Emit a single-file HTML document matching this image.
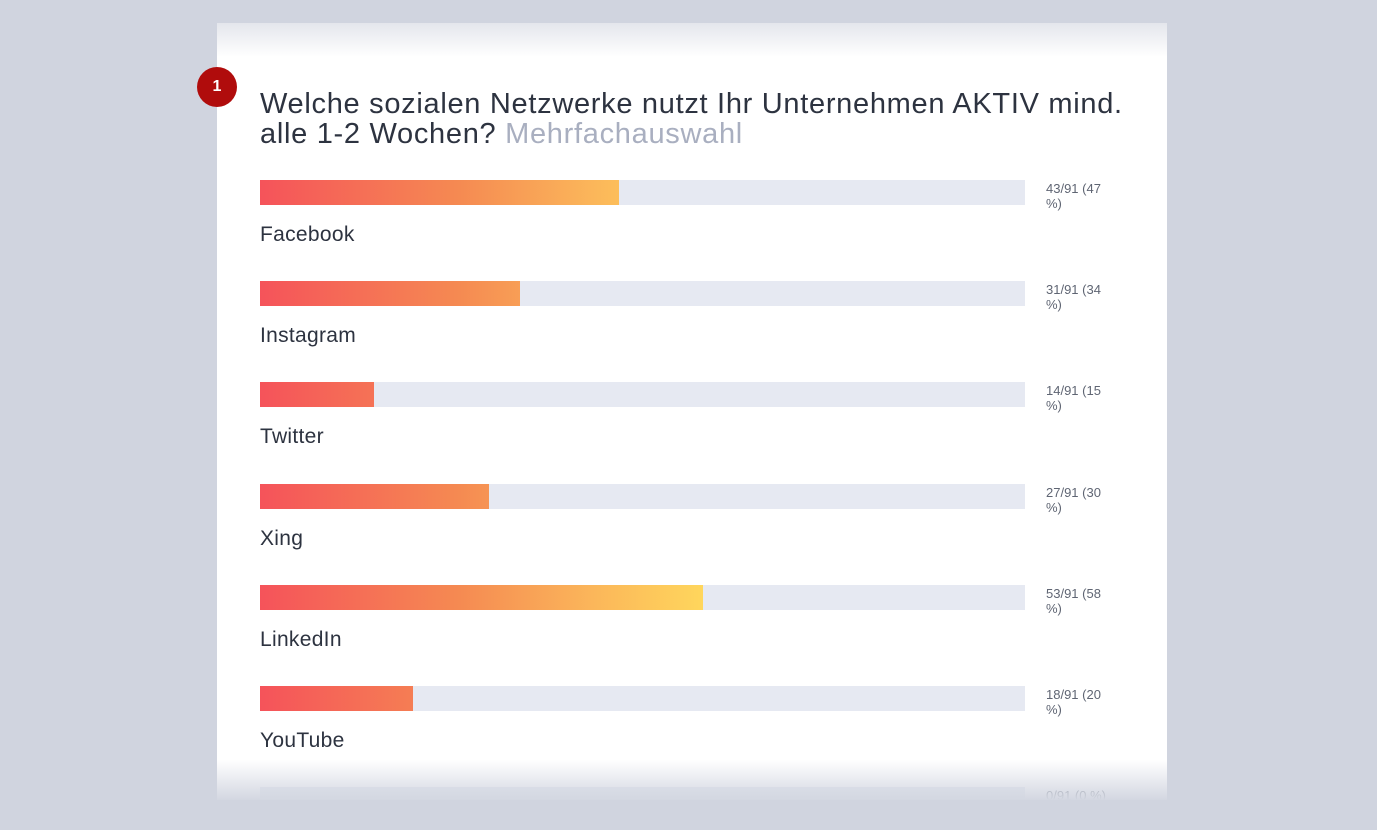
<!DOCTYPE html>
<html><head><meta charset="utf-8"><style>
html,body{margin:0;padding:0;}
body{width:1377px;height:830px;background:#d0d4df;position:relative;overflow:hidden;font-family:"Liberation Sans",sans-serif;}
.card{position:absolute;left:217px;top:23px;width:950px;height:777px;background:#fff;overflow:hidden;}
.topfade{position:absolute;left:0;top:0;width:950px;height:34px;background:linear-gradient(#e4e6ec,#fff);z-index:3}
.botfade{position:absolute;left:0;top:737px;width:950px;height:40px;background:linear-gradient(rgba(255,255,255,0),#d3d7e1);z-index:3}
.badge{position:absolute;left:197px;top:67px;width:40px;height:40px;border-radius:50%;background:#b00c0c;color:#fff;font-weight:bold;font-size:16px;text-align:center;line-height:40px;z-index:5}
.title{position:absolute;left:43px;top:66px;width:880px;font-size:29px;line-height:30px;color:#2d3340;letter-spacing:0.7px;font-weight:300}
.title span{color:#a9afc0}
.row{position:absolute;left:43px;width:900px;}
.track{position:absolute;left:0;top:0;width:765px;height:25px;background:#e6e9f2}
.fill{position:absolute;left:0;top:0;height:25px;background:linear-gradient(90deg,#f5535a,#f58a52 45%,#fbb65a 75%,#ffd65c);background-size:443px 100%;background-repeat:no-repeat}
.lab{position:absolute;left:0;top:43px;font-size:21px;color:#2d3340;letter-spacing:0.3px}
.val{position:absolute;left:786px;top:1px;width:68px;font-size:13px;line-height:15px;color:#5f6573}
</style></head><body>
<div class="card">
<div class="topfade"></div><div class="botfade"></div>
<div class="title">Welche sozialen Netzwerke nutzt Ihr Unternehmen AKTIV mind.<br>alle 1-2 Wochen? <span>Mehrfachauswahl</span></div>
<div class="row" style="top:157px"><div class="track"></div><div class="fill" style="width:359px"></div><div class="lab">Facebook</div><div class="val">43/91 (47 %)</div></div>
<div class="row" style="top:258px"><div class="track"></div><div class="fill" style="width:260px"></div><div class="lab">Instagram</div><div class="val">31/91 (34 %)</div></div>
<div class="row" style="top:359px"><div class="track"></div><div class="fill" style="width:114px"></div><div class="lab">Twitter</div><div class="val">14/91 (15 %)</div></div>
<div class="row" style="top:461px"><div class="track"></div><div class="fill" style="width:229px"></div><div class="lab">Xing</div><div class="val">27/91 (30 %)</div></div>
<div class="row" style="top:562px"><div class="track"></div><div class="fill" style="width:443px"></div><div class="lab">LinkedIn</div><div class="val">53/91 (58 %)</div></div>
<div class="row" style="top:663px"><div class="track"></div><div class="fill" style="width:153px"></div><div class="lab">YouTube</div><div class="val">18/91 (20 %)</div></div>
<div class="row" style="top:764px"><div class="track"></div><div class="val" style="width:90px">0/91 (0 %)</div></div>
</div>
<div class="badge">1</div>
</body></html>
